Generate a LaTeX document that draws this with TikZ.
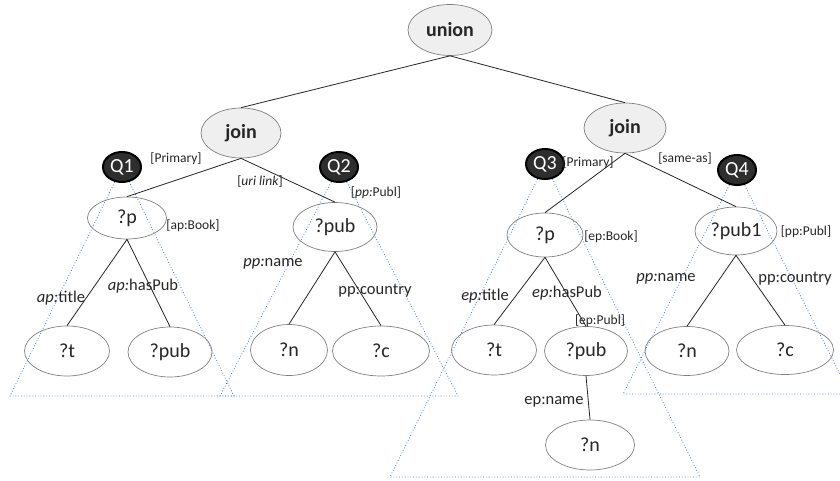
\documentclass[tikz,border=0pt]{standalone}
\usepackage{fontspec}
\setmainfont{Carlito}
\usetikzlibrary{shapes.geometric,backgrounds}

\definecolor{ink}{HTML}{262626}
\definecolor{rim}{HTML}{808080}
\definecolor{opfill}{HTML}{EFEFEF}
\definecolor{qfill}{HTML}{2E2E2E}
\definecolor{scopeblue}{HTML}{4A7EBB}

\tikzset{
  var/.style={ellipse, draw=rim, line width=0.7pt, inner sep=0pt, text=ink,
              font=\fontsize{20}{24}\selectfont},
  op/.style={var, fill=opfill, font=\bfseries\fontsize{20}{24}\selectfont},
  query/.style={ellipse, draw=black, line width=2pt, fill=qfill, text=white,
                font=\fontsize{20}{22}\selectfont, minimum width=38pt,
                minimum height=30pt, inner sep=0pt},
  link/.style={draw=ink, line width=0.8pt},
  pred/.style={text=ink, font=\fontsize{16.5}{20}\selectfont, inner sep=0pt},
  tag/.style={text=ink, font=\fontsize{13.5}{16}\selectfont, inner sep=0pt},
  cover/.style={draw=scopeblue, line width=0.8pt, dash pattern=on 0.8pt off 2pt},
  sz/.style 2 args={minimum width=#1pt, minimum height=#2pt}
}

\begin{document}
\begin{tikzpicture}[x=1pt, y=-1pt]
\useasboundingbox (0,0) rectangle (840,481);

% operators
\node[op, sz={84}{51}] (union) at (450,30) {union};
\node[op, sz={80}{50}] (joinL) at (241,133) {join};
\node[op, sz={82}{50}] (joinR) at (625,128) {join};

% query markers
\node[query] (q1) at (122,167) {Q1};
\node[query] (q2) at (339,167) {Q2};
\node[query] (q3) at (545,164) {Q3};
\node[query] (q4) at (737,170) {Q4};

% subject variables
\node[var, sz={79}{42}] (pA) at (127,218) {?p};
\node[var, sz={84}{49}] (pubB) at (335,227) {?pub};
\node[var, sz={76}{44}] (pC) at (545,235) {?p};
\node[var, sz={82}{48}] (pubD) at (736,231) {?pub1};

% object variables
\node[var, sz={85}{50}] (tA) at (67,351) {?t};
\node[var, sz={84}{50}] (pubA) at (170,352) {?pub};
\node[var, sz={77}{51}] (nB) at (289,350) {?n};
\node[var, sz={97}{50}] (cB) at (381,351) {?c};
\node[var, sz={85}{50}] (tC) at (494,350) {?t};
\node[var, sz={83}{49}] (pubC) at (586,351) {?pub};
\node[var, sz={89}{50}] (nC) at (590,445) {?n};
\node[var, sz={84}{49}] (nD) at (687,351) {?n};
\node[var, sz={97}{49}] (cD) at (785,350) {?c};

% tree edges
\draw[link] (union.south) -- (joinL.north);
\draw[link] (union.south) -- (joinR.north);
\draw[link] (joinL.south) -- (pA.north);
\draw[link] (joinL.south) -- (pubB.north);
\draw[link] (joinR.south) -- (pC.north);
\draw[link] (joinR.south) -- (pubD.north);
\draw[link] (pA.south) -- (tA.north);
\draw[link] (pA.south) -- (pubA.north);
\draw[link] (pubB.south) -- (nB.north);
\draw[link] (pubB.south) -- (cB.north);
\draw[link] (pC.south) -- (tC.north);
\draw[link] (pC.south) -- (pubC.north);
\draw[link] (pubC.south) -- (nC.north);
\draw[link] (pubD.south) -- (nD.north);
\draw[link] (pubD.south) -- (cD.north);

% annotations
\node[tag] (primA) at (176,159) {[Primary]};
\node[tag] (uri) at (260,182) {[\textit{uri link}]};
\node[tag] (typeB) at (376,193) {[\textit{pp:}Publ]};
\node[tag] (typeA) at (193,226) {[ap:Book]};
\node[tag] (primC) at (588,163) {[Primary]};
\node[tag] (same) at (685,159) {[same-as]};
\node[tag] (typeC) at (611,237) {[ep:Book]};
\node[tag] (typeD) at (806,232) {[pp:Publ]};
\node[tag] (typeE) at (600,321) {[ep:Publ]};

% predicates
\node[pred] (lA1) at (61,298) {\textit{ap:}title};
\node[pred] (lA2) at (143,286) {\textit{ap:}hasPub};
\node[pred] (lB1) at (273,264) {\textit{pp:}name};
\node[pred] (lB2) at (375,291) {pp:country};
\node[pred] (lC1) at (485,296) {\textit{ep:}title};
\node[pred] (lC2) at (567,293) {\textit{ep:}hasPub};
\node[pred] (lC3) at (554,402) {ep:name};
\node[pred] (lD1) at (666,279) {\textit{pp:}name};
\node[pred] (lD2) at (795,279) {pp:country};

% query scopes
\begin{scope}[on background layer]
  \clip (0,0) rectangle (840,481);
  \coordinate (bA1) at (10,396);  \coordinate (bA2) at (234,396);
  \coordinate (bB1) at (220,396); \coordinate (bB2) at (458,396);
  \coordinate (bC1) at (390,477); \coordinate (bC2) at (700,477);
  \coordinate (bD1) at (623,394); \coordinate (bD2) at (850,394);
  \draw[cover] (q1.center) -- (bA1) -- (bA2) -- cycle;
  \draw[cover] (q2.center) -- (bB1) -- (bB2) -- cycle;
  \draw[cover] (q3.center) -- (bC1) -- (bC2) -- cycle;
  \draw[cover] (q4.center) -- (bD1) -- (bD2) -- cycle;
\end{scope}
\end{tikzpicture}
\end{document}
